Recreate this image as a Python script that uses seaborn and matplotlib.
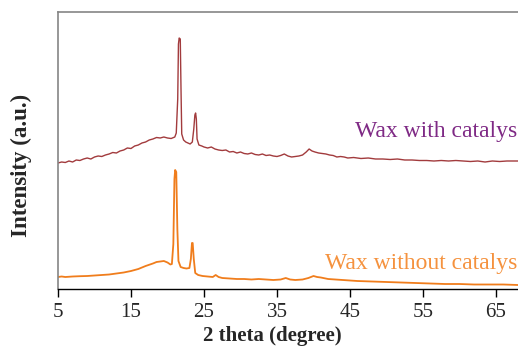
import numpy as np
import pandas as pd
import matplotlib
matplotlib.use("Agg")
import matplotlib.pyplot as plt
import seaborn as sns

# XRD patterns (intensity in arbitrary units)
theta_with = [5.0, 5.5, 6.0, 6.5, 7.0, 7.5, 8.0, 8.5, 9.0, 9.5, 10.0, 10.5, 11.0, 11.5, 12.0,
              12.5, 13.0, 13.5, 14.0, 14.5, 15.0, 15.5, 16.0, 16.5, 17.0, 17.5, 18.0, 18.5,
              19.0, 19.5, 20.0, 20.5, 21.0, 21.2, 21.4, 21.5, 21.6, 21.75, 21.85, 21.95,
              22.2, 22.5, 22.8, 23.1, 23.4, 23.6, 23.75, 23.85, 23.95, 24.05, 24.3, 24.7,
              25.0, 25.5, 26.0, 26.5, 27.0, 27.5, 28.0, 28.5, 29.0, 29.5, 30.0, 30.5, 31.0,
              31.5, 32.0, 32.5, 33.0, 33.5, 34.0, 34.5, 35.0, 35.5, 36.0, 36.5, 37.0, 37.5,
              38.0, 38.5, 39.0, 39.4, 39.8, 40.2, 40.7, 41.2, 41.7, 42.2, 42.7, 43.2, 43.7,
              44.2, 44.7, 45.5, 46.5, 47.5, 48.5, 49.5, 50.5, 51.5, 52.5, 53.5, 54.5, 55.5,
              56.5, 57.5, 58.5, 59.5, 60.5, 61.5, 62.5, 63.5, 64.5, 65.5, 66.5, 67.5, 68.5, 70.0]
int_with = [126, 127, 126.5, 128, 127, 129, 128.5, 130, 131, 130, 132, 133, 132.5, 134, 135,
            136.5, 136, 138, 139, 141, 140.5, 143, 144, 146, 147, 149, 150, 151.5,
            151, 152, 151, 150.5, 152, 156, 190, 245, 251, 250, 200, 155,
            149, 147, 146, 145, 147, 160, 174, 176, 170, 150, 144, 143,
            142, 141, 142, 140, 139, 138.5, 139, 137, 137.5, 136, 137, 135.5, 135,
            136, 134.5, 134, 135, 133.5, 134, 133, 132.5, 133.5, 135, 133, 132, 132.5,
            133, 134, 137, 140, 138, 137, 136, 135.5, 135, 134, 133.5, 132, 132.5,
            132, 131, 131.5, 130.5, 131, 130, 130, 129.5, 130, 129, 129, 128.5, 128.5,
            128, 128.5, 128, 128.5, 128, 127.5, 128, 127, 128, 127.5, 128, 128, 128, 128]

theta_without = [5.0, 5.5, 6.0, 7.0, 8.0, 9.0, 10.0, 11.0, 12.0, 13.0, 14.0, 15.0, 16.0, 17.0,
                 18.0, 18.5, 19.0, 19.5, 20.0, 20.4, 20.6, 20.8, 20.95, 21.05, 21.2, 21.35,
                 21.5, 21.8, 22.2, 22.6, 23.0, 23.2, 23.35, 23.45, 23.6, 23.8, 24.2, 24.8,
                 25.5, 26.2, 26.6, 27.0, 27.5, 28.5, 29.5, 30.5, 31.5, 32.5, 33.5, 34.5, 35.5,
                 36.2, 36.8, 37.5, 38.5, 39.3, 40.0, 40.5, 41.0, 42.0, 43.0, 44.0, 45.0, 46.0,
                 48.0, 50.0, 52.0, 54.0, 56.0, 58.0, 60.0, 62.0, 64.0, 66.0, 68.0, 70.0]
int_without = [12, 12.5, 12, 12.5, 12.8, 13, 13.5, 14, 14.5, 15.5, 16.5, 18, 20, 23,
               25.5, 27, 27.5, 28, 26.5, 24.5, 25, 45, 110, 119, 117, 60,
               28, 22, 21, 20.5, 21, 30, 46, 46, 30, 16, 14, 13,
               12.5, 12, 14, 12, 11, 10.5, 10, 10, 9.5, 10, 9.5, 9, 9.5,
               11, 9.5, 9, 9.5, 11, 13, 12, 11.5, 10, 9.5, 9, 8.5, 8,
               7.5, 7, 6.5, 6, 5.5, 5, 5, 4.5, 4.5, 4.5, 4, 4]

x_ticks = [5, 15, 25, 35, 45, 55, 65]

df_with = pd.DataFrame({"theta": theta_with, "intensity": int_with})
df_without = pd.DataFrame({"theta": theta_without, "intensity": int_without})

sns.set_style("ticks")
plt.rcParams["font.family"] = ["Liberation Serif", "DejaVu Serif"]

fig = plt.figure(figsize=(5.18, 3.49), dpi=100)
ax = fig.add_axes([58 / 518, 60 / 349, 474.5 / 518, 277 / 349])

sns.lineplot(data=df_with, x="theta", y="intensity", color="#a23b3d", linewidth=1.0, ax=ax)
sns.lineplot(data=df_without, x="theta", y="intensity", color="#f07d1c", linewidth=1.3, ax=ax)

ax.set_xlim(5, 70)
ax.set_ylim(0, 277)
ax.set_xticks(x_ticks)
ax.set_yticks([])
ax.tick_params(axis="x", direction="out", length=6, width=1, labelsize=15, pad=4, color="black")
ax.spines["bottom"].set_color("black")
ax.spines["bottom"].set_linewidth(1.0)
for s in ["left", "top"]:
    ax.spines[s].set_color("#858585")
    ax.spines[s].set_linewidth(1.2)
ax.spines["right"].set_visible(False)

ax.set_xlabel("2 theta (degree)", fontsize=15, fontweight="bold")
ax.set_ylabel("Intensity (a.u.)", fontsize=16.5, fontweight="bold")
ax.xaxis.set_label_coords((272 - 58) / 474.5, -37 / 277)
ax.yaxis.set_label_coords(-26 / 474.5, (289 - 165) / 277)

fig.text(517 / 518, 1 - 131 / 349, "Wax with catalys", color="#7f2a85",
         fontsize=17, ha="right", va="center")
fig.text(517 / 518, 1 - 263 / 349, "Wax without catalys", color="#f5923e",
         fontsize=17, ha="right", va="center")

fig.savefig("out.png", dpi=100)
